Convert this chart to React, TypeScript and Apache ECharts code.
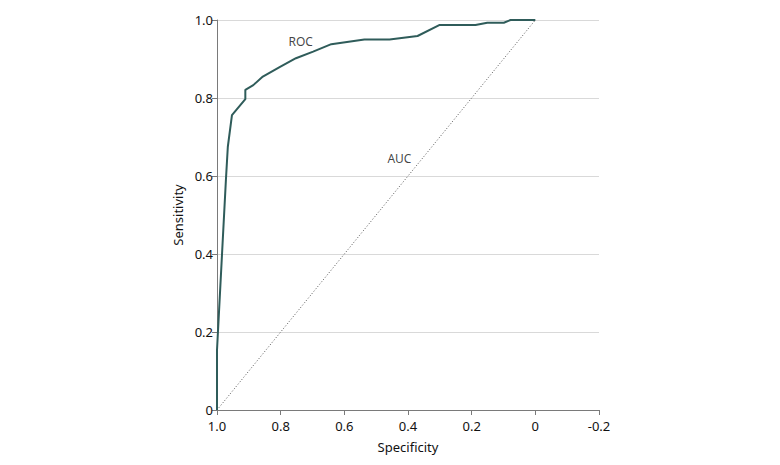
import React, { useEffect, useRef } from "react";
import * as echarts from "echarts";

const rocSpecificity = [1.0, 1.0, 0.972, 0.966, 0.953, 0.911, 0.911, 0.886, 0.856, 0.802, 0.752, 0.698, 0.641, 0.537, 0.458, 0.37, 0.302, 0.188, 0.151, 0.099, 0.078, 0.0];
const rocSensitivity = [0, 0.154, 0.59, 0.675, 0.756, 0.797, 0.821, 0.833, 0.855, 0.88, 0.902, 0.919, 0.938, 0.95, 0.95, 0.959, 0.987, 0.987, 0.993, 0.993, 1.0, 1.0];
const diagonalX = [1.0, 0.0];
const diagonalY = [0.0, 1.0];
const annotations = [
  { text: "ROC", x: 0.737, y: 0.944 },
  { text: "AUC", x: 0.427, y: 0.644 },
];

const FONT = "Noto Sans";
const fmt = (v: number) => (Math.abs(v) < 1e-9 ? "0" : v.toFixed(1));

export default function App() {
  const ref = useRef<HTMLDivElement>(null);
  useEffect(() => {
    if (!ref.current) return;
    const chart = echarts.init(ref.current, undefined, { renderer: "svg" });
    const axisLine = { show: true, onZero: false, lineStyle: { color: "#7a7a7a", width: 1 } };
    const axisTick = { show: true, length: 5, lineStyle: { color: "#7a7a7a" } };
    const axisLabel = { color: "#111", fontSize: 13, lineHeight: 13, fontFamily: FONT, formatter: fmt };
    chart.setOption({
      animation: false,
      backgroundColor: "#fff",
      grid: { left: 217, right: 181, top: 20, bottom: 55 },
      xAxis: {
        type: "value",
        inverse: true,
        min: -0.2,
        max: 1.0,
        interval: 0.2,
        name: "Specificity",
        nameLocation: "middle",
        nameGap: 30,
        nameTextStyle: { color: "#111", fontSize: 13, fontFamily: FONT },
        axisLine,
        axisTick,
        axisLabel: { ...axisLabel, margin: 9 },
        splitLine: { show: false },
      },
      yAxis: {
        type: "value",
        min: 0,
        max: 1.0,
        interval: 0.2,
        name: "Sensitivity",
        nameLocation: "middle",
        nameGap: 33,
        nameTextStyle: { color: "#111", fontSize: 13, fontFamily: FONT },
        axisLine,
        axisTick,
        axisLabel: { ...axisLabel, margin: 4 },
        splitLine: { show: true, lineStyle: { color: "#d9d9d9", width: 1 } },
      },
      series: [
        {
          type: "line",
          data: diagonalX.map((x, i) => [x, diagonalY[i]]),
          symbol: "none",
          lineStyle: { color: "#555", width: 1, type: [1, 2] },
          silent: true,
        },
        {
          type: "line",
          data: rocSpecificity.map((x, i) => [x, rocSensitivity[i]]),
          symbol: "none",
          lineStyle: { color: "#2f5c5a", width: 2 },
          silent: true,
        },
        {
          type: "scatter",
          data: annotations.map((a) => ({ value: [a.x, a.y], name: a.text })),
          symbolSize: 0,
          label: {
            show: true,
            position: "inside",
            formatter: (p: any) => p.name,
            color: "#111",
            fontSize: 12,
            fontFamily: FONT,
          },
          silent: true,
        },
      ],
    });
    return () => chart.dispose();
  }, []);
  return <div ref={ref} style={{ width: 780, height: 465, margin: -8 }} />;
}
